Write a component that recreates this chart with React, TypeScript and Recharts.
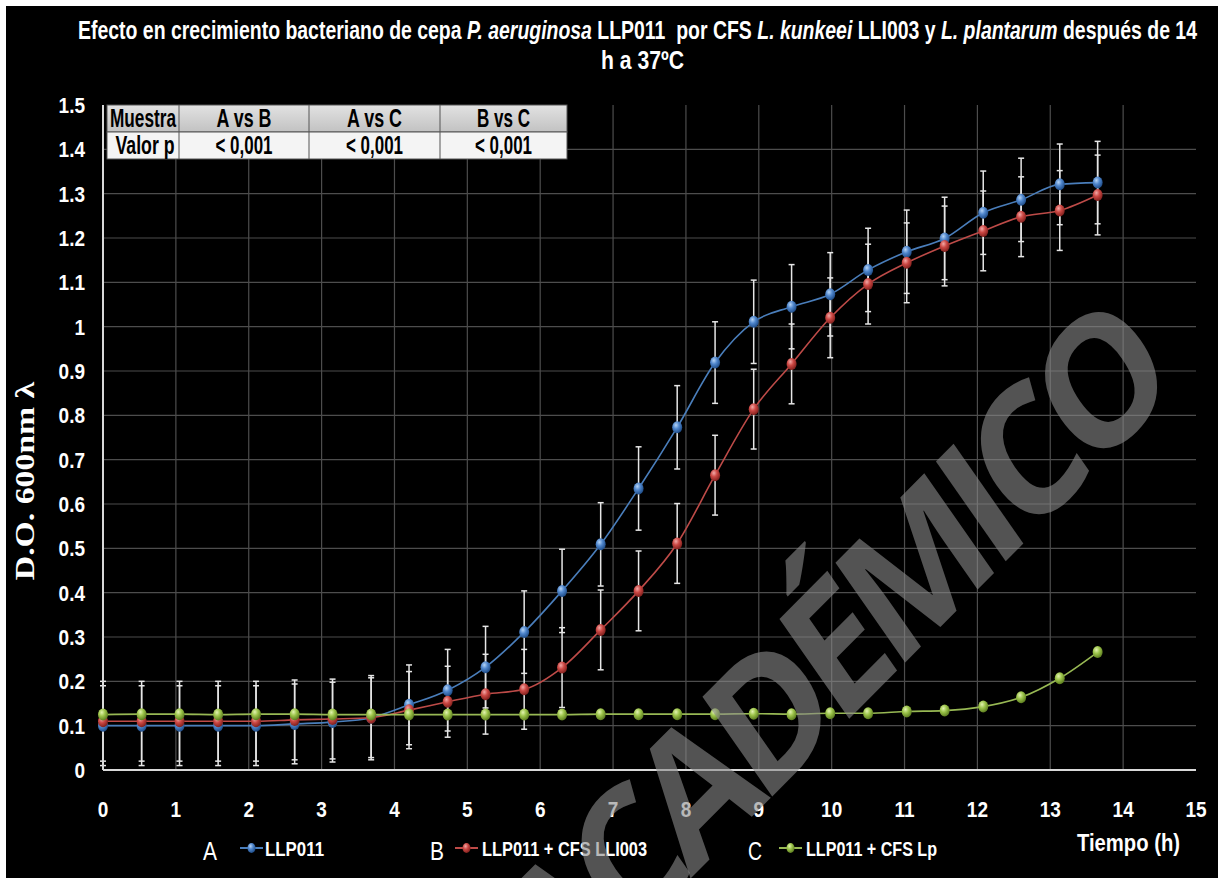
import React from 'react';
import { LineChart, Line, XAxis, YAxis, CartesianGrid, ErrorBar } from 'recharts';

// tiempo de lectura (h), una lectura cada ~31.5 min
const tiempo = [0, 0.53, 1.05, 1.58, 2.1, 2.63, 3.15, 3.68, 4.2, 4.73, 5.25, 5.78, 6.3, 6.83, 7.35, 7.88, 8.4, 8.93, 9.45, 9.98, 10.5, 11.03, 11.55, 12.08, 12.6, 13.13, 13.65];

// A: LLP011
const serieA = [0.1, 0.1, 0.1, 0.1, 0.1, 0.104, 0.108, 0.118, 0.147, 0.18, 0.232, 0.311, 0.404, 0.509, 0.635, 0.773, 0.919, 1.011, 1.045, 1.073, 1.128, 1.169, 1.199, 1.257, 1.286, 1.321, 1.325];
const errA = [0.09, 0.09, 0.09, 0.09, 0.09, 0.09, 0.09, 0.095, 0.09, 0.092, 0.092, 0.093, 0.094, 0.094, 0.094, 0.094, 0.092, 0.094, 0.095, 0.094, 0.094, 0.094, 0.093, 0.094, 0.094, 0.091, 0.093];

// B: LLP011 + CFS LLI003
const serieB = [0.11, 0.11, 0.11, 0.11, 0.11, 0.113, 0.115, 0.118, 0.135, 0.154, 0.171, 0.182, 0.231, 0.316, 0.404, 0.511, 0.665, 0.814, 0.916, 1.02, 1.096, 1.144, 1.182, 1.216, 1.248, 1.262, 1.297];
const errB = [0.09, 0.09, 0.09, 0.09, 0.09, 0.09, 0.09, 0.09, 0.087, 0.08, 0.09, 0.09, 0.09, 0.09, 0.09, 0.09, 0.09, 0.09, 0.09, 0.09, 0.09, 0.09, 0.09, 0.09, 0.09, 0.09, 0.09];

// C: LLP011 + CFS Lp
const serieC = [0.125, 0.126, 0.126, 0.125, 0.126, 0.126, 0.125, 0.125, 0.125, 0.125, 0.125, 0.125, 0.125, 0.126, 0.126, 0.126, 0.126, 0.127, 0.126, 0.128, 0.128, 0.132, 0.134, 0.143, 0.164, 0.207, 0.266];

const xTicks = [0, 1, 2, 3, 4, 5, 6, 7, 8, 9, 10, 11, 12, 13, 14, 15];
const yTicks = [0, 0.1, 0.2, 0.3, 0.4, 0.5, 0.6, 0.7, 0.8, 0.9, 1, 1.1, 1.2, 1.3, 1.4, 1.5];
const xGrid = [1, 2, 3, 4, 5, 6, 7, 8, 9, 10, 11, 12, 13, 14];
const yGrid = [0.1, 0.2, 0.3, 0.4, 0.5, 0.6, 0.7, 0.8, 0.9, 1, 1.1, 1.2, 1.3, 1.4];

const letras = ['A', 'B', 'C'];
const nombres = ['LLP011', 'LLP011 + CFS LLI003', 'LLP011 + CFS Lp'];
const colores = ['#4a7ebb', '#be4b48', '#98b954'];

const tablaCabecera = ['Muestra', 'A vs B', 'A vs C', 'B vs C'];
const tablaValores = ['Valor p', '< 0,001', '< 0,001', '< 0,001'];

const data = tiempo.map((t, i) => ({
  t,
  a: serieA[i],
  ea: errA[i],
  b: serieB[i],
  eb: errB[i],
  c: serieC[i],
}));

const SANS = "'Liberation Sans', Arial, sans-serif";

const ball = (gid: string, key: string) => (p: any) => (
  <ellipse key={`${key}-${p.index}`} cx={p.cx} cy={p.cy} rx={5} ry={6} fill={`url(#${gid})`} />
);

const XTick = ({ x, y, payload }: any) => (
  <g transform={`translate(${x},${y}) scale(1,1.2)`}>
    <text x={0} y={0} dy="0.71em" textAnchor="middle" fill="#fff" fontSize={19} fontWeight="bold" fontFamily={SANS}>
      {payload.value}
    </text>
  </g>
);

const YTick = ({ x, y, payload }: any) => (
  <g transform={`translate(${x},${y}) scale(1,1.2)`}>
    <text x={0} y={0} dy="0.355em" textAnchor="end" fill="#fff" fontSize={19} fontWeight="bold" fontFamily={SANS}>
      {payload.value}
    </text>
  </g>
);

// texto estrecho: se fuerza el ancho medido en la figura
const Narrow = ({ x, y, w, size, bold = true, fill = '#fff', children }: any) => (
  <text x={x} y={y} textLength={w} lengthAdjust="spacingAndGlyphs" fill={fill} fontSize={size} fontWeight={bold ? 'bold' : 'normal'} fontFamily={SANS}>
    {children}
  </text>
);

const colX = [107, 179, 309, 440, 567];
const cabW = [66, 55, 55, 53];
const valW = [59, 57, 57, 57];

export default function App() {
  return (
    <div style={{ position: 'absolute', left: 0, top: 0, width: 1218, height: 878, background: '#fff', overflow: 'hidden' }}>
      <div style={{ position: 'absolute', left: 6, top: 6, right: 0, bottom: 0, background: '#000' }} />

      <div style={{ position: 'absolute', left: 0, top: 0 }}>
        <LineChart width={1218} height={878} data={data} margin={{ top: 105, right: 22, left: 43, bottom: 68 }}>
          <defs>
            <radialGradient id="gA" cx="38%" cy="32%" r="70%">
              <stop offset="0%" stopColor="#b5d3f5" />
              <stop offset="45%" stopColor="#4f86cc" />
              <stop offset="100%" stopColor="#1d4a85" />
            </radialGradient>
            <radialGradient id="gB" cx="38%" cy="32%" r="70%">
              <stop offset="0%" stopColor="#f2a8a6" />
              <stop offset="45%" stopColor="#cc4844" />
              <stop offset="100%" stopColor="#7e1f1c" />
            </radialGradient>
            <radialGradient id="gC" cx="38%" cy="32%" r="70%">
              <stop offset="0%" stopColor="#e2f2b0" />
              <stop offset="45%" stopColor="#9cc44a" />
              <stop offset="100%" stopColor="#5a7a1e" />
            </radialGradient>
          </defs>
          <CartesianGrid stroke="#4d4d4d" strokeWidth={1.2} verticalValues={xGrid} horizontalValues={yGrid} />
          <XAxis
            dataKey="t"
            type="number"
            domain={[0, 15]}
            ticks={xTicks}
            interval={0}
            height={40}
            tickLine={false}
            tickSize={0}
            tickMargin={31}
            axisLine={{ stroke: '#d9d9d9', strokeWidth: 2 }}
            tick={<XTick />}
          />
          <YAxis
            type="number"
            domain={[0, 1.5]}
            ticks={yTicks}
            interval={0}
            width={60}
            tickLine={false}
            tickSize={0}
            tickMargin={18}
            axisLine={{ stroke: '#d9d9d9', strokeWidth: 2 }}
            tick={<YTick />}
          />
          <Line type="monotone" dataKey="a" stroke={colores[0]} strokeWidth={1.6} dot={ball('gA', 'a')} activeDot={false} isAnimationActive={false}>
            <ErrorBar dataKey="ea" direction="y" width={3} stroke="#e6e6e6" strokeWidth={1.5} />
          </Line>
          <Line type="monotone" dataKey="b" stroke={colores[1]} strokeWidth={1.6} dot={ball('gB', 'b')} activeDot={false} isAnimationActive={false}>
            <ErrorBar dataKey="eb" direction="y" width={3} stroke="#e6e6e6" strokeWidth={1.5} />
          </Line>
          <Line type="monotone" dataKey="c" stroke={colores[2]} strokeWidth={1.6} dot={ball('gC', 'c')} activeDot={false} isAnimationActive={false} />
        </LineChart>
      </div>

      <svg style={{ position: 'absolute', left: 0, top: 0, pointerEvents: 'none' }} width={1218} height={878}>
        {/* titulo */}
        <Narrow x={78} y={39} w={1119} size={25}>
          Efecto en crecimiento bacteriano de cepa <tspan fontStyle="italic">P. aeruginosa</tspan> LLP011{'\u00a0'} por CFS{' '}
          <tspan fontStyle="italic">L. kunkeei</tspan> LLI003 y <tspan fontStyle="italic">L. plantarum</tspan> después de 14
        </Narrow>
        <Narrow x={601} y={69} w={83} size={25}>
          h a 37ºC
        </Narrow>

        {/* titulo eje Y */}
        <text
          transform="translate(34,481) rotate(-90) scale(1.25,1)"
          textAnchor="middle"
          fill="#fff"
          fontSize={27}
          fontWeight="bold"
          fontFamily="'Liberation Serif', 'Times New Roman', serif"
        >
          D.O. 600nm λ
        </text>

        {/* tabla de p */}
        <defs>
          <linearGradient id="cab" x1="0" y1="0" x2="0" y2="1">
            <stop offset="0%" stopColor="#e2e2e2" />
            <stop offset="100%" stopColor="#c2c2c2" />
          </linearGradient>
        </defs>
        <rect x={colX[0]} y={105} width={colX[4] - colX[0]} height={27} fill="url(#cab)" stroke="#555" />
        <rect x={colX[0]} y={132} width={colX[4] - colX[0]} height={27} fill="#f4f4f4" stroke="#555" />
        {colX.slice(1, 4).map((cx) => (
          <line key={cx} x1={cx} y1={105} x2={cx} y2={159} stroke="#555" />
        ))}
        {tablaCabecera.map((txt, c) => {
          const mid = (colX[c] + colX[c + 1]) / 2;
          return (
            <Narrow key={`h${c}`} x={mid - cabW[c] / 2} y={127} w={cabW[c]} size={26} fill="#000">
              {txt}
            </Narrow>
          );
        })}
        {tablaValores.map((txt, c) => {
          const mid = (colX[c] + colX[c + 1]) / 2;
          return (
            <Narrow key={`v${c}`} x={mid - valW[c] / 2 + (c === 0 ? 2 : 0)} y={154} w={valW[c]} size={26} fill="#000">
              {txt}
            </Narrow>
          );
        })}

        {/* leyenda */}
        {[
          { lx: 203, mx: 240, tx: 265, tw: 59 },
          { lx: 430, mx: 455, tx: 482, tw: 165 },
          { lx: 748, mx: 779, tx: 806, tw: 131 },
        ].map((p, i) => (
          <g key={i}>
            <Narrow x={p.lx} y={860} w={14} size={25} bold={false}>
              {letras[i]}
            </Narrow>
            <line x1={p.mx} y1={848} x2={p.mx + 23} y2={848} stroke={colores[i]} strokeWidth={2} />
            <ellipse cx={p.mx + 11.5} cy={848} rx={4} ry={5} fill={`url(#g${letras[i]})`} />
            <Narrow x={p.tx} y={856} w={p.tw} size={21}>
              {nombres[i]}
            </Narrow>
          </g>
        ))}
        <Narrow x={1077} y={851} w={103} size={23}>
          Tiempo (h)
        </Narrow>

        {/* marca de agua */}
        <text
          transform="translate(826,650) scale(1,1.2) rotate(-40)"
          textAnchor="middle"
          dominantBaseline="central"
          fill="#8a8a8a"
          fillOpacity={0.6}
          fontSize={152}
          letterSpacing={-12}
          fontWeight="bold"
          fontFamily="'Open Sans', 'DejaVu Sans', sans-serif"
        >
          ACADÉMICO
        </text>
      </svg>
    </div>
  );
}
